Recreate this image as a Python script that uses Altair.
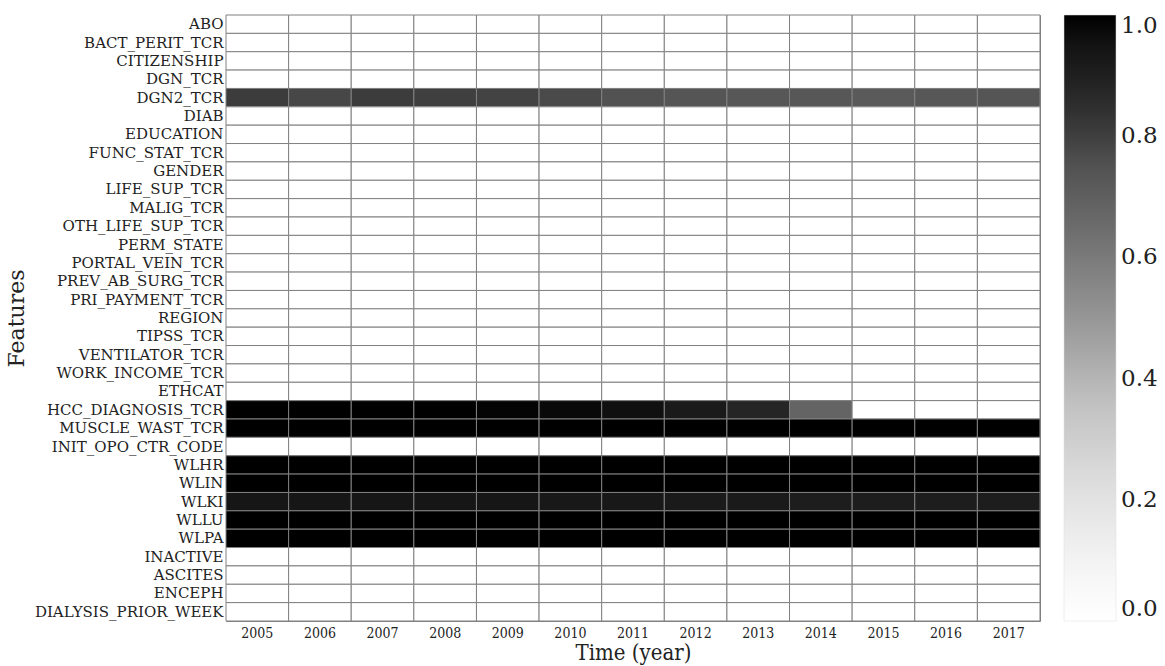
import altair as alt
import pandas as pd

features = [
    "ABO", "BACT_PERIT_TCR", "CITIZENSHIP", "DGN_TCR", "DGN2_TCR", "DIAB",
    "EDUCATION", "FUNC_STAT_TCR", "GENDER", "LIFE_SUP_TCR", "MALIG_TCR",
    "OTH_LIFE_SUP_TCR", "PERM_STATE", "PORTAL_VEIN_TCR", "PREV_AB_SURG_TCR",
    "PRI_PAYMENT_TCR", "REGION", "TIPSS_TCR", "VENTILATOR_TCR",
    "WORK_INCOME_TCR", "ETHCAT", "HCC_DIAGNOSIS_TCR", "MUSCLE_WAST_TCR",
    "INIT_OPO_CTR_CODE", "WLHR", "WLIN", "WLKI", "WLLU", "WLPA", "INACTIVE",
    "ASCITES", "ENCEPH", "DIALYSIS_PRIOR_WEEK",
]
years = [str(y) for y in range(2005, 2018)]

# Non-zero rows of the importance matrix (one value per year)
dgn2_tcr = [0.81, 0.78, 0.81, 0.80, 0.79, 0.77, 0.75, 0.74, 0.73, 0.73, 0.72, 0.73, 0.74]
hcc_diagnosis_tcr = [1.0, 1.0, 1.0, 1.0, 0.99, 0.98, 0.96, 0.92, 0.875, 0.68, 0.0, 0.0, 0.0]
muscle_wast_tcr = [1.0, 1.0, 1.0, 1.0, 1.0, 1.0, 1.0, 1.0, 1.0, 1.0, 1.0, 1.0, 1.0]
wlhr = [1.0, 1.0, 1.0, 1.0, 1.0, 1.0, 1.0, 1.0, 1.0, 1.0, 1.0, 1.0, 1.0]
wlin = [1.0, 1.0, 1.0, 1.0, 1.0, 1.0, 1.0, 1.0, 1.0, 1.0, 1.0, 1.0, 1.0]
wlki = [0.94, 0.94, 0.94, 0.94, 0.94, 0.93, 0.93, 0.92, 0.92, 0.91, 0.91, 0.91, 0.91]
wllu = [1.0, 1.0, 1.0, 1.0, 1.0, 1.0, 1.0, 1.0, 1.0, 1.0, 1.0, 1.0, 1.0]
wlpa = [1.0, 1.0, 1.0, 1.0, 1.0, 1.0, 1.0, 1.0, 1.0, 1.0, 1.0, 1.0, 1.0]

nonzero = {
    "DGN2_TCR": dgn2_tcr,
    "HCC_DIAGNOSIS_TCR": hcc_diagnosis_tcr,
    "MUSCLE_WAST_TCR": muscle_wast_tcr,
    "WLHR": wlhr,
    "WLIN": wlin,
    "WLKI": wlki,
    "WLLU": wllu,
    "WLPA": wlpa,
}

# White-to-black grey ramp
grey_stops = [0.0, 0.125, 0.25, 0.375, 0.5, 0.625, 0.75, 0.875, 1.0]
grey_colors = ["#ffffff", "#f0f0f0", "#d9d9d9", "#bdbdbd", "#969696",
               "#737373", "#525252", "#252525", "#000000"]

records = []
for f in features:
    row = nonzero.get(f, [0.0] * len(years))
    for y, v in zip(years, row):
        records.append({"feature": f, "year": y, "value": v})
df = pd.DataFrame(records)

FONT = "DejaVu Serif"
TEXT = "#222222"

chart = (
    alt.Chart(df)
    .mark_rect(stroke="#808080", strokeWidth=1)
    .encode(
        x=alt.X(
            "year:O",
            sort=years,
            title="Time (year)",
            axis=alt.Axis(
                labelAngle=0,
                labelFontSize=14,
                titleFontSize=22,
                labelFont="DejaVu Serif Condensed",
                titleFont="DejaVu Serif Condensed",
                titleFontWeight="normal",
                labelColor=TEXT,
                titleColor=TEXT,
                ticks=False,
                domain=False,
                labelPadding=5,
                titlePadding=2,
            ),
        ),
        y=alt.Y(
            "feature:O",
            sort=features,
            title="Features",
            axis=alt.Axis(
                labelFontSize=15,
                titleFontSize=22,
                labelFont=FONT,
                titleFont=FONT,
                titleFontWeight="normal",
                labelColor=TEXT,
                titleColor=TEXT,
                labelLimit=400,
                ticks=False,
                domain=False,
                labelPadding=3,
                titlePadding=6,
            ),
        ),
        color=alt.Color(
            "value:Q",
            scale=alt.Scale(domain=grey_stops, range=grey_colors),
            legend=alt.Legend(
                title=None,
                orient="right",
                direction="vertical",
                offset=24,
                padding=0,
                gradientLength=606,
                gradientThickness=52,
                gradientStrokeColor="#dddddd",
                gradientStrokeWidth=0.5,
                values=[0, 0.2, 0.4, 0.6, 0.8, 1.0],
                format=".1f",
                labelFont=FONT,
                labelFontSize=23,
                labelColor=TEXT,
                labelBaseline="middle",
                labelOffset=5,
                labelOverlap=False,
            ),
        ),
    )
    .properties(
        width=814,
        height=606,
        autosize=alt.AutoSizeParams(type="none"),
        padding={"left": 226, "top": 15, "right": 125, "bottom": 45},
    )
    .configure_view(stroke="#808080", strokeWidth=1)
    .configure_scale(bandPaddingInner=0, bandPaddingOuter=0)
)

chart.save("out.html", embed_options={"renderer": "svg", "actions": False})
